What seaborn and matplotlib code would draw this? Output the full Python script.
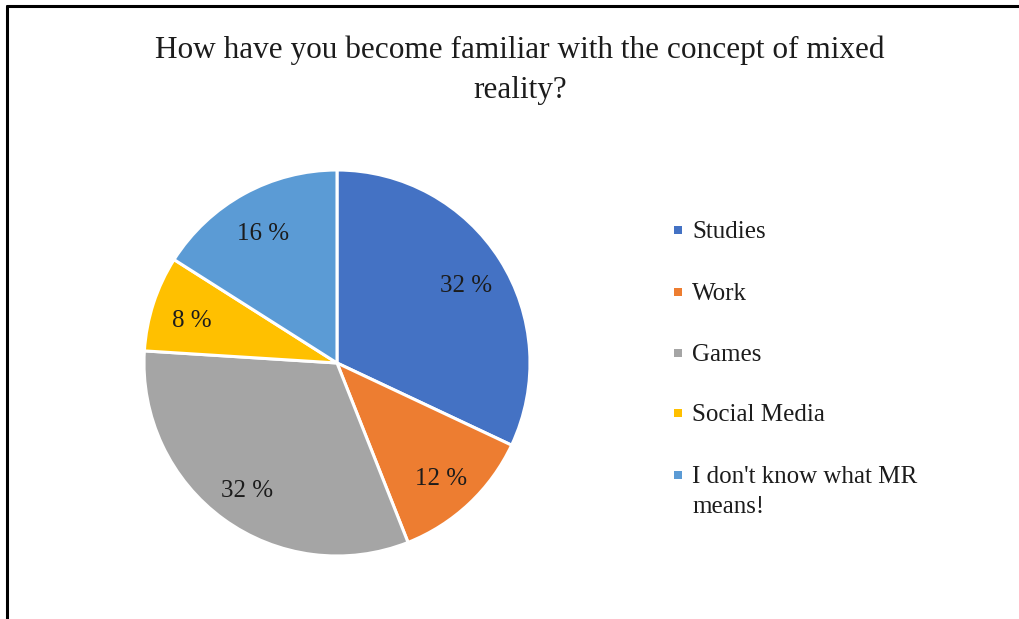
import matplotlib
matplotlib.use("Agg")
import matplotlib.pyplot as plt
from matplotlib.patches import Rectangle
from matplotlib.lines import Line2D
import numpy as np
import seaborn as sns

# Survey answers: how respondents became familiar with mixed reality
categories = ["Studies", "Work", "Games", "Social Media", "I don't know what MR\nmeans!"]
shares = [32, 12, 32, 8, 16]
colors = ["#4472C4", "#ED7D31", "#A5A5A5", "#FFC000", "#5B9BD5"]
title = "How have you become familiar with the concept of mixed\nreality?"

sns.set_theme(style="white")
plt.rcParams["font.family"] = ["Liberation Serif", "DejaVu Serif"]

W, H = 1020, 619
fig = plt.figure(figsize=(W / 100, H / 100), dpi=100)
fig.patch.set_facecolor("white")
text_color = "#1c1c1c"

# Pie axes: centre (337, 363) px, radius 193 px
cx, cy, r = 337, 363, 193
ax = fig.add_axes([(cx - r) / W, (H - cy - r) / H, 2 * r / W, 2 * r / H])
wedges, _ = ax.pie(
    shares,
    colors=colors,
    startangle=90,
    counterclock=False,
    radius=1.0,
    wedgeprops=dict(edgecolor="white", linewidth=2.2),
)
for w, v in zip(wedges, shares):
    ang = np.deg2rad((w.theta1 + w.theta2) / 2)
    ax.text(0.79 * np.cos(ang), 0.79 * np.sin(ang) - 0.025, f"{v} %",
            ha="center", va="center", fontsize=18, color=text_color)
ax.set_xlim(-1, 1)
ax.set_ylim(-1, 1)
ax.set_aspect("equal")
ax.axis("off")

fig.text(520 / W, 1 - 70 / H, title, ha="center", va="center",
         fontsize=22.5, color=text_color, linespacing=1.5)

# Legend: small square swatch followed by the category name
legend_y = [230, 292, 353, 413, 475]
sq = 8
for c, label, y in zip(colors, categories, legend_y):
    fig.add_artist(Rectangle((674 / W, 1 - (y + sq / 2) / H), sq / W, sq / H,
                             transform=fig.transFigure, facecolor=c, edgecolor="none"))
    fig.text(692 / W, 1 - (y - 9) / H, label, ha="left", va="top",
             fontsize=18, color=text_color, linespacing=1.45)

# Frame lines along the left and top edges
fig.add_artist(Line2D([7 / W, 7 / W], [0, 1 - 5.5 / H], transform=fig.transFigure,
                      color="black", linewidth=2.2))
fig.add_artist(Line2D([7 / W, 1], [1 - 5.5 / H, 1 - 5.5 / H], transform=fig.transFigure,
                      color="black", linewidth=2.2))

fig.savefig("out.png", dpi=100, facecolor="white")
